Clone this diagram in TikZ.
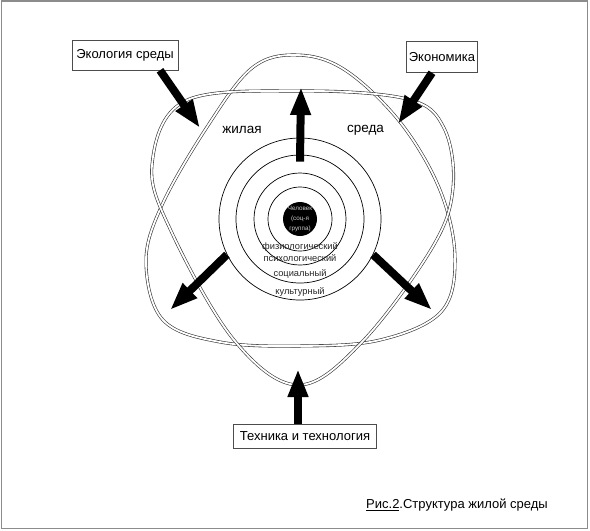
\documentclass[tikz,border=0pt]{standalone}
\usepackage{fontspec}
\setmainfont{Liberation Sans}
\usepackage{tikz}
\usetikzlibrary{arrows.meta}
\usetikzlibrary{positioning}
\tikzstyle{factor}=[draw=black!70,fill=white,line width=0.6pt,inner sep=0pt,font=\fontsize{13}{15}\selectfont]
\tikzstyle{push}=[line width=8pt,-{Triangle[length=28pt,width=19pt]}]
\tikzstyle{orbit}=[draw=black!80,line width=0.6pt,double=white,double distance=1.8pt]
\tikzstyle{ring}=[draw,circle,inner sep=0pt,line width=0.7pt]
\tikzstyle{lvl}=[font=\fontsize{9.3}{11}\selectfont,inner sep=0pt,text=black!85]
\tikzstyle{word}=[font=\fontsize{13.5}{15}\selectfont,inner sep=0pt]
\newcommand{\ring}[2]{\node[ring,minimum size=#2] (#1) at (c) {};}

\begin{document}
\begin{tikzpicture}[x=1pt,y=-1pt]
  \useasboundingbox (0,0) rectangle (590,531);
  \draw[black!45,line width=1.2pt] (1.5,1) rectangle (587.5,528.5);

  % two orbits
  \draw[orbit] plot[smooth cycle,tension=0.6] coordinates {
    (297,55) (345,70) (400,122) (440,190) (455,258) (441,312)
    (380,340) (300,346) (220,342) (163,320) (146,262) (162,205)
    (207,127) (252,68)};
  \draw[orbit] plot[smooth cycle,tension=0.6] coordinates {
    (300,91) (407,99) (444,128) (453,188) (432,248) (362,342)
    (298,385) (234,340) (172,233) (152,165) (185,101)};

  % rings
  \coordinate (c) at (300,219);
  \ring{r5}{162pt}
  \ring{r4}{128pt}
  \ring{r3}{92pt}
  \ring{r2}{64pt}
  \node[circle,fill=black,minimum size=34pt,inner sep=0pt] (man) at (c) {};
  \node[align=center,inner sep=0pt,font=\fontsize{6.3}{10}\selectfont,text=white!80!black] (manl) at (man) {Человек\\(соц-я\\группа)};

  \node[lvl] (l1) at (300,247) {физиологический};
  \node[lvl] (l2) at (300,258) {психологический};
  \node[lvl] (l3) at (300,274) {социальный};
  \node[lvl] (l4) at (300,292) {культурный};

  \node[word] (zh) at (242,130) {жилая};
  \node[word,right=85pt of zh] (sr) {среда};

  % factors
  \node[factor,minimum width=106pt,minimum height=30pt] (eco) at (125,55) {Экология среды};
  \node[factor,minimum width=71pt,minimum height=31pt] (econ) at (442,57) {Экономика};
  \node[factor,minimum width=143pt,minimum height=24pt] (tech) at (305,436) {Техника и технология};

  \coordinate (ecoT) at (200,128);
  \coordinate (econT) at (398,124);
  \coordinate (upT) at (301,87);
  \coordinate (llT) at (170,310);
  \coordinate (lrT) at (432,310);
  \coordinate (techT) at (298,369);

  \draw[push] ([xshift=35pt]eco.south) -- (ecoT);
  \draw[push] ([xshift=-10pt]econ.south) -- (econT);
  \draw[push] ([yshift=-7pt]r4.north) -- (upT);
  \draw[push] (r5.206) -- (llT);
  \draw[push] (r5.-26) -- (lrT);
  \draw[push] ([xshift=-7pt]tech.north) -- (techT);

  \node[inner sep=0pt,font=\fontsize{13}{15}\selectfont] (cap) at (457,505) {\underline{Рис.2}.Структура жилой среды};
\end{tikzpicture}
\end{document}
